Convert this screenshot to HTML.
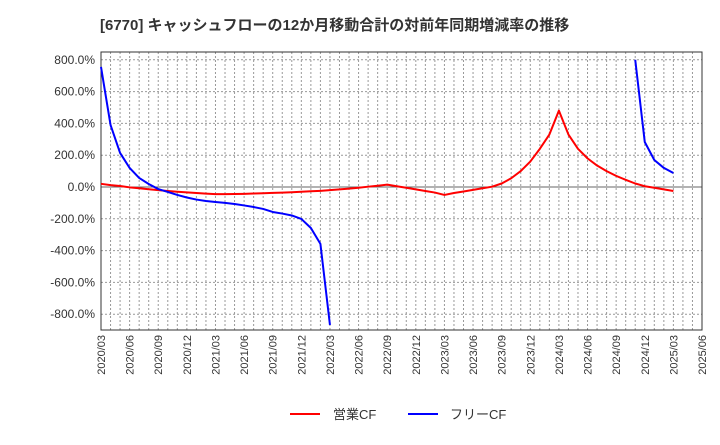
<!DOCTYPE html>
<html><head><meta charset="utf-8"><style>
body{margin:0;background:#fff;}
svg text{font-family:"Liberation Sans","Noto Sans CJK JP",sans-serif;}
</style></head><body>
<svg id="c" width="720" height="440" xmlns="http://www.w3.org/2000/svg">
<text x="100" y="30" font-size="15" font-weight="bold" fill="#333">[6770]  キャッシュフローの12か月移動合計の対前年同期増減率の推移</text>
<g id="grid"></g><g id="axes"></g><g id="series"></g>
<g>
<line x1="290" y1="414" x2="320" y2="414" stroke="#f00" stroke-width="2"/>
<text x="333" y="419" font-size="13" fill="#333">営業CF</text>
<line x1="408" y1="414" x2="438" y2="414" stroke="#00f" stroke-width="2"/>
<text x="450" y="419" font-size="13" fill="#333">フリーCF</text>
</g>
</svg>
<script>
const yTicks=[800,600,400,200,0,-200,-400,-600,-800];
const xLabels=["2020/03","2020/06","2020/09","2020/12","2021/03","2021/06","2021/09","2021/12","2022/03","2022/06","2022/09","2022/12","2023/03","2023/06","2023/09","2023/12","2024/03","2024/06","2024/09","2024/12","2025/03","2025/06"];
const operatingCF=[20,12,6,-2,-8,-14,-20,-25,-30,-34,-38,-42,-45,
-45,-44,-43,-41,-39,-37,-35,-33,-30,-27,-24,-20,
-15,-10,-5,2,8,15,
5,-5,-15,-25,-35,-50,
-38,-28,-18,-8,2,22,
55,100,160,240,330,480,
330,240,180,135,100,70,
45,22,5,-5,-15,-25];
const freeCF=[755,390,214,120,57,19,-13,-31,-50,-66,-79,-88,-94,-100,-107,-116,-126,-138,-157,-167,-179,-201,-258,-358,-868,
null,null,null,null,null,null,null,null,null,null,null,null,null,null,null,null,null,null,null,null,null,null,null,null,null,null,null,null,null,null,null,
800,283,170,120,88];
const L=101,R=702,T=52,B=330;
const Y=v=>187-v*0.159;
const X=i=>L+i*(R-L)/63;
const ns="http://www.w3.org/2000/svg";
function mk(t,a,p){const e=document.createElementNS(ns,t);for(const k in a)e.setAttribute(k,a[k]);p.appendChild(e);return e;}
const g=document.getElementById('grid'),ax=document.getElementById('axes'),s=document.getElementById('series');
for(let m=1;m<63;m++){const l=mk('line',{x1:X(m),x2:X(m),y1:T,y2:B,stroke:'#999','stroke-dasharray':'2,2','stroke-width':1},g);

}
yTicks.forEach(v=>{const l=mk('line',{x1:L,x2:R,y1:Y(v),y2:Y(v),stroke:v===0?'#666':'#999','stroke-dasharray':v===0?'':'2,2','stroke-width':1},g);


const t=mk('text',{x:L-6,y:Y(v)+4,'text-anchor':'end','font-size':12,fill:'#333'},ax);t.textContent=v.toFixed(1)+'%';

});
xLabels.forEach((lb,i)=>{const x=X(i*3);const t=mk('text',{x:0,y:0,transform:`translate(${x+4},${B+5}) rotate(-90)`,'text-anchor':'end','font-size':11,fill:'#333'},ax);t.textContent=lb;

});
const fr=mk('rect',{x:L,y:T,width:R-L,height:B-T,fill:'none',stroke:'#333'},ax);


function draw(arr,col,name){let segs=[],cur=[];arr.forEach((v,i)=>{if(v==null){if(cur.length)segs.push(cur);cur=[];}else cur.push(X(i)+','+Y(v));});if(cur.length)segs.push(cur);
segs.forEach(sg=>{const p=mk('polyline',{points:sg.join(' '),fill:'none',stroke:col,'stroke-width':2,'stroke-linejoin':'round'},s);

});}
draw(operatingCF,'#f00','operating-cf-line');
draw(freeCF,'#00f','free-cf-line');
</script>
</body></html>
